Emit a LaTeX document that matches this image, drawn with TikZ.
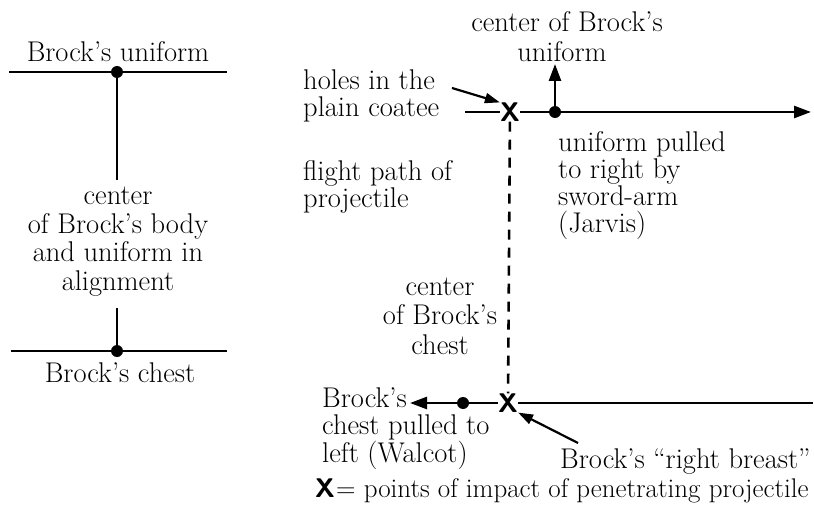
\documentclass[tikz,border=0pt]{standalone}
\usetikzlibrary{arrows.meta}
\begin{document}
\begin{tikzpicture}[x=1pt,y=-1pt,
  lbl/.style={inner sep=0pt, font=\fontsize{28.5}{27}\selectfont},
  ln/.style={line width=2.6pt},
  dotn/.style={circle, fill, inner sep=0pt, minimum size=12pt},
  xmark/.style={inner sep=0pt, font=\fontsize{27}{27}\selectfont\sffamily\bfseries},
  arr/.style={ln, -{Triangle[length=17pt,width=12pt]}},
  parr/.style={line width=2.2pt, -{Triangle[length=15pt,width=10pt]}},
  dsh/.style={line width=2.6pt, dash pattern=on 10pt off 8pt}
]
\useasboundingbox (0,0) rectangle (814,516);
% ---------- left diagram ----------
\coordinate (ul) at (9,72);
\coordinate (ur) at (227,72);
\coordinate (cl) at (11,351);
\coordinate (cr) at (227,351);
\coordinate (ubot) at (117,180);
\coordinate (ctop) at (117,308);
\draw[ln] (ul) -- (ur);
\draw[ln] (cl) -- (cr);
\node[dotn] (ud) at (117,72) {};
\node[dotn] (cd) at (117,351) {};
\draw[ln] (ud.center) -- (ubot);
\draw[ln] (ctop) -- (cd.center);
\node[lbl, anchor=base] (utext) at (118,62) {Brock’s uniform};
\node[lbl, anchor=base, align=center, font=\fontsize{28.5}{28.5}\selectfont] (ctext) at (118,290)
  {center\\of Brock’s body\\and uniform in\\alignment};
\node[lbl, anchor=base] (chtext) at (120,382) {Brock’s chest};
% ---------- right diagram: uniform ----------
\node[xmark] (x1) at (510,112) {X};
\node[dotn] (ud2) at (555,112) {};
\coordinate (l1s) at (465,112);
\coordinate (l1e) at (811,112);
\coordinate (uptip) at (555,64);
\draw[ln] (l1s) -- (x1);
\draw[arr] (x1) -- (l1e);
\draw[arr] (ud2.center) -- (uptip);
\node[lbl, anchor=base] (cu1) at (567,32) {center of Brock’s};
\node[lbl, anchor=base] (cu2) at (562,62) {uniform};
\node[lbl, anchor=base west, align=left] (holes) at (303,117) {holes in the\\plain coatee};
\coordinate (htail) at (452,88);
\draw[parr] (htail) -- (x1.north west);
\node[lbl, anchor=base west, align=left, font=\fontsize{28.5}{26}\selectfont] (flight) at (303,207) {flight path of\\projectile};
\node[lbl, anchor=base west, align=left, font=\fontsize{28.5}{26.7}\selectfont] (pulled) at (558,232) {uniform pulled\\to right by\\sword-arm\\(Jarvis)};
% ---------- right diagram: chest ----------
\node[xmark] (x2) at (508,403) {X};
\node[dotn] (cd2) at (463,403) {};
\coordinate (l2e) at (813,403);
\coordinate (lefttip) at (410,403);
\draw[ln] (x2) -- (l2e);
\draw[ln] (x2) -- (cd2.center);
\draw[arr] (cd2.center) -- (lefttip);
\draw[dsh] (x1) -- (x2);
\node[lbl, anchor=base, align=center, font=\fontsize{28.5}{29.5}\selectfont] (cchest) at (440,354) {center\\of Brock’s\\chest};
\node[lbl, anchor=base west, align=left, font=\fontsize{28.5}{26.5}\selectfont] (walcot) at (322,462) {Brock’s\\chest pulled to\\left (Walcot)};
\node[lbl, anchor=base west] (breast) at (560,468) {Brock’s ``right breast''};
\coordinate (btail) at (578,443);
\draw[parr] (btail) -- (x2.south east);
% ---------- legend ----------
\node[xmark, anchor=base west] (lx) at (315,497) {X};
\node[lbl, anchor=base west, font=\fontsize{27}{27}\selectfont] (legend) at (336,497) {= points of impact of penetrating projectile};
\end{tikzpicture}
\end{document}
